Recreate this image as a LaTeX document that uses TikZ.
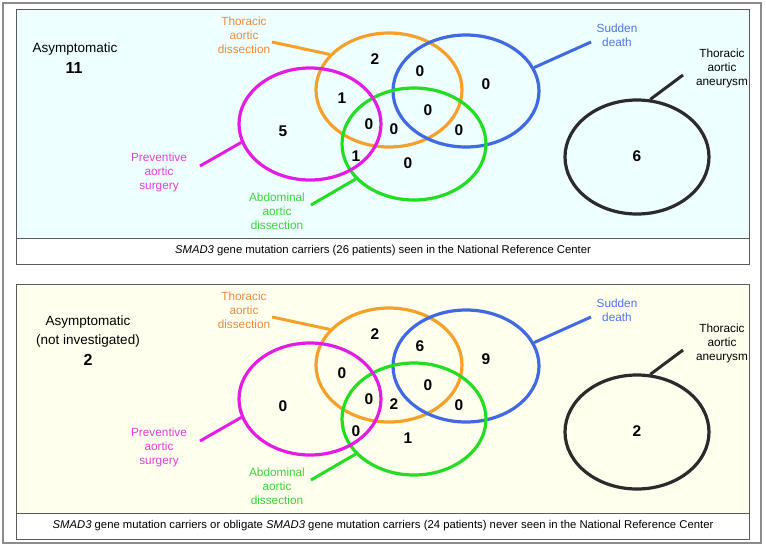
\documentclass[tikz,border=0pt]{standalone}
\usepackage{fontspec}
\setmainfont{Liberation Sans}
\usetikzlibrary{shapes.geometric}
\definecolor{cOra}{HTML}{F5A02A}
\definecolor{cOraT}{HTML}{EC8A3A}
\definecolor{cBlu}{HTML}{4169E1}
\definecolor{cBluT}{HTML}{4F74E3}
\definecolor{cGrn}{HTML}{22DD22}
\definecolor{cGrnT}{HTML}{3AD43A}
\definecolor{cMag}{HTML}{E31CE3}
\definecolor{cMagT}{HTML}{E040DA}
\definecolor{cBlk}{HTML}{2B2B2B}
\definecolor{bgTop}{HTML}{EEFFFF}
\definecolor{bgBot}{HTML}{FFFFEE}
\definecolor{frameC}{HTML}{5A5A5A}
\tikzset{
  venn/.style={ellipse, draw, line width=3.2pt, inner sep=0pt, minimum width=2*#1},
  lab/.style={align=center, inner sep=0pt, font=\fontsize{11.8}{14}\selectfont},
  num/.style={inner sep=0pt, font=\fontsize{15.5}{16}\selectfont\bfseries},
  tickline/.style={line width=3pt},
  captext/.style={inner sep=0pt, font=\fontsize{11.3}{13}\selectfont},
  asym/.style={inner sep=0pt, align=center, font=\fontsize{13.5}{19}\selectfont},
  panelbox/.style={draw=frameC, line width=1pt}
}
\begin{document}
\begin{tikzpicture}[x=1pt, y=-1pt]
\useasboundingbox (0,0) rectangle (766,550);
\draw[draw=gray!90, line width=1.5pt] (3,3) rectangle (761,543);
% ===== panel scopes =====
\foreach \pan/\sh/\bg in {A/0/bgTop, B/275/bgBot}{
\begin{scope}[shift={(0,\sh)}]
  \fill[\bg] (16,9.5) rectangle (749,238);
  \fill[white] (16,238) rectangle (749,264);
  \draw[panelbox] (16,9.5) rectangle (749,264);
  \draw[panelbox] (16,238) -- (749,238);
  \node[venn=73pt, minimum height=114pt, draw=cOra] (ora\pan) at (389,90) {};
  \node[venn=73pt, minimum height=112pt, draw=cBlu] (blu\pan) at (466,91) {};
  \node[venn=72pt, minimum height=112pt, draw=cGrn] (grn\pan) at (414,144) {};
  \node[venn=71pt, minimum height=112pt, draw=cMag] (mag\pan) at (310,124) {};
  \node[venn=72pt, minimum height=114pt, draw=cBlk] (blk\pan) at (637,157) {};
  \coordinate (oraE\pan) at (272,42);
  \coordinate (magE\pan) at (200,166);
  \coordinate (grnE\pan) at (311,205);
  \coordinate (bluE\pan) at (591,42);
  \coordinate (blkE\pan) at (683,75);
  \draw[tickline, cOra] (ora\pan.149) -- (oraE\pan);
  \draw[tickline, cMag] (mag\pan.195) -- (magE\pan);
  \draw[tickline, cGrn] (grn\pan.211) -- (grnE\pan);
  \draw[tickline, cBlu] (blu\pan.19) -- (bluE\pan);
  \draw[tickline, cBlk] (blk\pan.77) -- (blkE\pan);
  \node[lab, text=cOraT] (lOra\pan) at (244,35) {Thoracic\\aortic\\dissection};
  \node[lab, text=cMagT] (lMag\pan) at (159,172) {Preventive\\aortic\\surgery};
  \node[lab, text=cGrnT] (lGrn\pan) at (277,211) {Abdominal\\aortic\\dissection};
  \node[lab, text=cBluT] (lBlu\pan) at (617,35) {Sudden\\death};
  \node[lab, text=black] (lBlk\pan) at (722,68) {Thoracic\\aortic\\aneurysm};
\end{scope}
}
% ===== top panel texts =====
\node[asym] (asA) at (75,49) {Asymptomatic};
\node[num, font=\fontsize{16}{16}\selectfont\bfseries] (asnA) at (74,68) {11};
\node[num] (n1A) at (375,59) {2};
\node[num] (n2A) at (342,98) {1};
\node[num] (n3A) at (283,131) {5};
\node[num] (n4A) at (369,124) {0};
\node[num] (n5A) at (394,129) {0};
\node[num] (n6A) at (356,156) {1};
\node[num] (n7A) at (420,71) {0};
\node[num] (n8A) at (486,84) {0};
\node[num] (n9A) at (428,110) {0};
\node[num] (n10A) at (459,130) {0};
\node[num] (n11A) at (408,163) {0};
\node[num] (n12A) at (637,156) {6};
\node[captext] (capA) at (383,251) {\textit{SMAD3} gene mutation carriers (26 patients) seen in the National Reference Center};
% ===== bottom panel texts =====
\begin{scope}[shift={(0,275)}]
\node[asym] (asB) at (88,57) {Asymptomatic\\(not investigated)};
\node[num, font=\fontsize{16}{16}\selectfont\bfseries] (asnB) at (88,85) {2};
\node[num] (n1B) at (375,59) {2};
\node[num] (n2B) at (342,98) {0};
\node[num] (n3B) at (283,131) {0};
\node[num] (n4B) at (369,124) {0};
\node[num] (n5B) at (394,129) {2};
\node[num] (n6B) at (356,156) {0};
\node[num] (n7B) at (420,71) {6};
\node[num] (n8B) at (486,84) {9};
\node[num] (n9B) at (428,110) {0};
\node[num] (n10B) at (459,130) {0};
\node[num] (n11B) at (408,163) {1};
\node[num] (n12B) at (637,156) {2};
\node[captext] (capB) at (383,251) {\textit{SMAD3} gene mutation carriers or obligate \textit{SMAD3} gene mutation carriers (24 patients) never seen in the National Reference Center};
\end{scope}
\end{tikzpicture}
\end{document}
